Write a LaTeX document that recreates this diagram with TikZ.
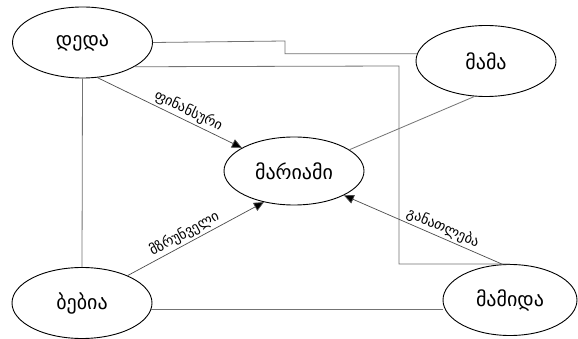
\documentclass[tikz,border=0pt]{standalone}
\usepackage{fontspec}
\setmainfont{DejaVu Sans}
\usetikzlibrary{shapes.geometric,arrows.meta}
\begin{document}
\begin{tikzpicture}[x=1pt,y=-1pt,
  person/.style={ellipse,draw=black,line width=0.9pt,minimum width=140pt,minimum height=71pt,inner sep=0pt,font=\fontsize{20}{24}\selectfont},
  link/.style={draw=black!55,line width=0.8pt},
  arr/.style={draw=black!70,line width=0.7pt,-{Triangle[length=10pt,width=9pt,fill=black]}},
  lbl/.style={sloped,above,font=\fontsize{14}{17}\selectfont,inner sep=2pt}]
\useasboundingbox (0,0) rectangle (578,339);
\fill[white] (0,0) rectangle (578,339);

\node[person] (deda) at (82.5,42.5) {დედა};
\node[person] (mama) at (486,61) {მამა};
\node[person,minimum height=68pt] (mariam) at (294,171) {მარიამი};
\node[person] (bebia) at (82,303) {ბებია};
\node[person,minimum width=134pt] (mamida) at (510,300) {მამიდა};

% family ties
\coordinate (c1) at (285,41);
\coordinate (c2) at (399,66);
\draw[link] (deda.east) -- (c1) |- (mama.174);
\draw[link] (deda.-25) -- (c2) |- (mamida.north);
\draw[link] (deda.south) -- (bebia.north);
\draw[link] (bebia.-5) -- (bebia.-5 -| mamida.west);
\draw[link] (mama.252) -- (mariam.21);

% support arrows
\draw[arr] (deda.-67) -- node[lbl,pos=0.6] {ფინანსური} (mariam.156);
\draw[arr] (bebia.31) -- node[lbl,pos=0.45] {მზრუნველი} (mariam.226);
\draw[arr] (mamida.102) -- node[lbl,pos=0.4,above] {განათლება} (mariam.334);
\end{tikzpicture}
\end{document}
